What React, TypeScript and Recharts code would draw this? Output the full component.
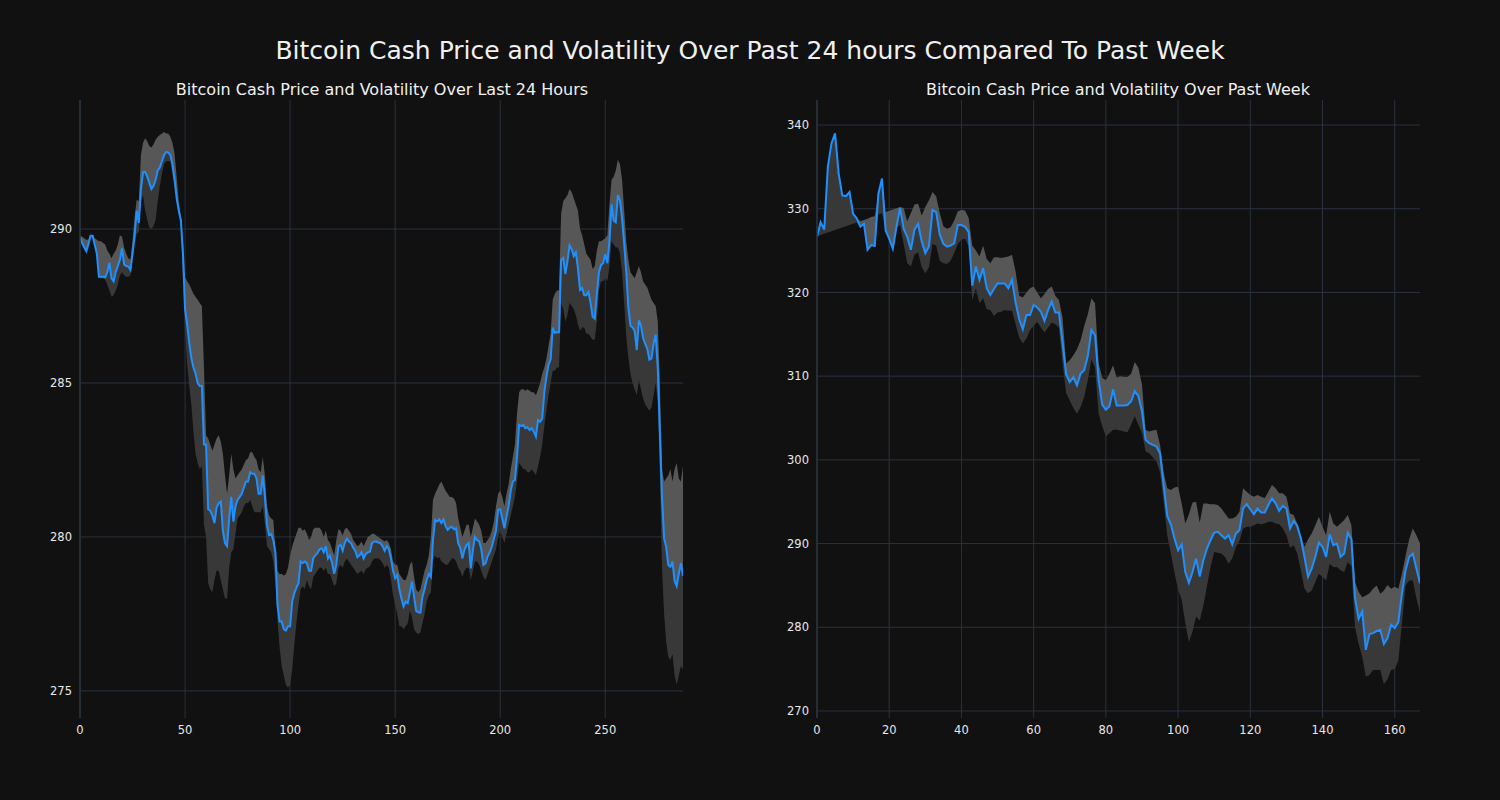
import { ComposedChart, Area, Line, XAxis, YAxis, CartesianGrid } from "recharts"

// last 24 hours, 5 minute steps
const dayPrice = [
  289.75, 289.55, 289.4, 289.28, 289.5, 289.78, 289.78, 289.5, 289.2, 288.45,
  288.45, 288.45, 288.43, 288.6, 288.9, 288.4, 288.3, 288.6, 288.8, 289.0,
  289.37, 288.85, 288.8, 288.78, 288.67, 289.2, 289.8, 290.6, 290.2, 291.3,
  291.85, 291.86, 291.7, 291.5, 291.3, 291.4, 291.6, 291.9, 292.0, 292.2,
  292.4, 292.5, 292.48, 292.4, 292.1, 291.6, 291.0, 290.6, 290.3, 289.2,
  287.4, 286.9, 286.3, 285.8, 285.5, 285.3, 285.0, 284.9, 284.9, 283.0,
  283.0, 280.9, 280.85, 280.7, 280.45, 280.95, 281.1, 281.15, 280.2, 279.8,
  279.7, 280.6, 281.3, 280.5, 281.0, 281.2, 281.3, 281.4, 281.6, 281.8,
  281.8, 282.1, 282.05, 282.05, 281.9, 281.4, 281.4, 282.0, 281.3, 280.4,
  280.06, 280.1, 279.9, 279.5, 277.8, 277.25, 277.25, 277.0, 276.96, 277.1,
  277.1, 277.9, 278.17, 278.35, 278.5, 279.2, 279.15, 279.2, 279.15, 278.9,
  278.9, 279.3, 279.4, 279.47, 279.6, 279.63, 279.5, 279.7, 279.3, 279.4,
  279.15, 278.8, 279.1, 279.7, 279.74, 279.55, 279.8, 279.95, 279.85, 279.8,
  279.65, 279.55, 279.34, 279.4, 279.5, 279.3, 279.45, 279.5, 279.52, 279.8,
  279.85, 279.85, 279.82, 279.8, 279.7, 279.55, 279.7, 279.6, 279.3, 278.9,
  278.66, 278.77, 278.3, 278.0, 277.74, 277.9, 277.85, 278.2, 278.55, 278.06,
  277.6, 277.55, 277.54, 278.06, 278.3, 278.6, 278.8, 278.7, 279.9, 280.55,
  280.5, 280.57, 280.45, 280.57, 280.35, 280.23, 280.3, 280.33, 280.25, 280.28,
  279.8, 279.65, 279.3, 279.58, 279.74, 279.8, 278.98, 279.58, 280.0, 279.9,
  279.85, 279.6, 279.09, 279.14, 279.36, 279.5, 279.68, 279.95, 280.2, 280.88,
  280.9, 280.6, 280.28, 280.66, 281.0, 281.5, 281.8, 281.85, 282.6, 283.64,
  283.6, 283.64, 283.53, 283.56, 283.47, 283.53, 283.42, 283.26, 283.8, 283.74,
  283.85, 284.7, 285.2, 285.6, 285.76, 286.8, 286.63, 286.65, 286.65, 289.0,
  289.06, 288.54, 288.95, 289.47, 289.35, 289.12, 289.24, 288.72, 288.02, 288.08,
  287.85, 287.85, 287.96, 287.6, 287.15, 287.09, 287.9, 288.6, 288.83, 288.89,
  289.18, 288.89, 289.6, 290.8, 290.28, 290.22, 291.1, 290.92, 290.34, 289.53,
  288.6, 287.44, 286.86, 286.8, 286.69, 286.07, 287.03, 286.86, 286.45, 286.28,
  286.11, 285.76, 285.8, 286.28, 286.57, 285.47, 283.38, 281.3, 279.96, 279.67,
  279.09, 279.03, 279.2, 278.57, 278.4, 278.8, 279.15, 278.74,
]

const dayHigh = [
  289.8, 289.75, 289.7, 289.65, 289.65, 289.8, 289.8, 289.7, 289.65, 289.6,
  289.6, 289.55, 289.5, 289.3, 289.2, 289.05, 289.2, 289.3, 289.5, 289.8,
  289.75, 289.4, 289.2, 289.05, 289.0, 289.6, 290.4, 290.95, 290.9, 292.4,
  292.8, 292.95, 292.85, 292.7, 292.65, 292.75, 292.9, 293.0, 293.05, 293.1,
  293.15, 293.1, 293.1, 293.0, 292.8, 292.45, 291.7, 290.9, 290.4, 289.6,
  288.45, 288.3, 288.2, 288.05, 287.9, 287.8, 287.7, 287.6, 287.5, 285.5,
  283.3, 283.2, 283.0, 282.8, 283.0, 283.2, 283.3, 283.1, 282.7, 282.0,
  281.4, 282.0, 282.7, 282.2, 281.9, 282.0, 282.1, 282.2, 282.35, 282.5,
  282.55, 282.75, 282.75, 282.6, 282.5, 282.2, 282.1, 282.6, 282.0, 281.0,
  280.7, 280.6, 280.55, 279.6, 278.9, 278.8, 278.8, 278.75, 278.8, 279.0,
  279.4, 279.7, 279.9, 280.1, 280.3, 280.3, 280.2, 280.25, 280.1, 279.9,
  280.0, 280.25, 280.3, 280.3, 280.3, 280.2, 280.0, 280.2, 279.9, 279.8,
  279.6, 279.4, 279.9, 280.25, 280.2, 280.05, 280.25, 280.3, 280.2, 280.1,
  279.9, 279.8, 279.7, 279.75, 279.85, 279.7, 279.85, 280.0, 280.05, 280.1,
  280.1, 280.05, 280.0, 279.95, 279.9, 279.85, 279.9, 279.8, 279.6, 279.2,
  279.1, 279.1, 278.8, 278.7, 278.6, 278.6, 278.8, 279.1, 279.2, 278.7,
  278.3, 278.2, 278.3, 278.6, 278.9, 279.1, 279.4, 280.0, 281.2, 281.4,
  281.55, 281.7, 281.8, 281.65, 281.5, 281.4, 281.3, 281.3, 281.25, 281.1,
  280.6, 280.3, 280.0, 280.2, 280.4, 280.4, 280.0, 280.3, 280.6, 280.5,
  280.4, 280.2, 279.8, 279.8, 279.9, 280.0, 280.2, 280.5, 281.0, 281.4,
  281.5, 281.3, 281.0, 281.4, 281.7, 282.2, 282.6, 283.0, 284.0, 284.7,
  284.8, 284.8, 284.75, 284.8, 284.75, 284.7, 284.7, 284.6, 284.8, 285.0,
  285.3, 285.5, 285.8, 286.2, 286.6, 287.7, 287.9, 288.0, 288.0, 290.5,
  290.9, 291.0, 291.1, 291.3, 291.2, 291.0, 290.8, 290.6, 290.0, 289.8,
  289.5, 289.2, 289.1, 289.0, 288.7, 288.8, 289.3, 289.6, 289.6, 289.65,
  289.7, 289.8, 290.8, 291.6, 291.7, 291.9, 292.25, 292.1, 291.6, 290.6,
  289.6, 289.0, 288.6, 288.5, 288.4, 288.6, 288.8, 288.6, 288.3, 288.2,
  288.1, 287.9, 287.7, 287.6, 287.5, 287.0, 285.0, 282.2, 281.8, 281.9,
  282.0, 282.2, 281.8, 282.2, 282.4, 281.9, 281.8, 282.3,
]

const dayLow = [
  289.7, 289.5, 289.35, 289.25, 289.45, 289.7, 289.7, 289.45, 289.15, 288.4,
  288.4, 288.4, 288.35, 288.2, 288.0, 287.8, 287.85, 288.0, 288.2, 288.5,
  288.6, 288.5, 288.45, 288.45, 288.5, 289.0, 289.5, 289.85, 289.9, 290.9,
  291.1, 290.6, 290.3, 290.05, 290.0, 290.1, 290.3, 290.9, 291.4, 291.8,
  292.1, 292.2, 292.2, 292.2, 291.8, 291.4, 290.9, 290.5, 290.0, 288.5,
  286.6, 285.6, 284.9, 284.3, 283.4, 282.7, 282.4, 282.2, 282.3, 280.4,
  280.0, 278.5, 278.3, 278.2, 278.6, 278.9, 278.9, 278.6, 278.3, 278.0,
  278.0, 279.0, 279.5, 279.6, 280.1, 280.6, 280.7, 280.8, 281.0, 281.1,
  281.1, 281.2, 281.0, 280.8, 280.8, 280.8, 280.8, 281.0, 280.4, 279.7,
  279.6, 279.5, 279.2, 278.5, 277.3, 276.4, 275.8, 275.5, 275.2, 275.1,
  275.2, 275.7, 276.5, 277.2, 277.8, 278.3, 278.4, 278.3, 278.6, 278.4,
  278.3, 278.7, 278.8, 278.9, 279.0, 279.0, 278.9, 279.0, 278.8, 278.8,
  278.6, 278.4, 278.5, 279.0, 279.1, 279.0, 279.2, 279.3, 279.2, 279.1,
  279.0, 278.9, 278.8, 278.85, 278.9, 278.8, 278.95, 279.0, 279.05, 279.2,
  279.3, 279.3, 279.3, 279.25, 279.15, 279.0, 279.1, 279.0, 278.6, 278.1,
  277.8, 277.5, 277.1, 277.1, 277.0, 277.1, 277.2, 277.6, 277.4, 277.0,
  276.9, 276.85, 276.9, 277.2, 277.5, 277.9, 278.1, 278.2, 279.2, 279.4,
  279.3, 279.35, 279.2, 279.15, 279.1, 279.1, 279.2, 279.3, 279.3, 279.2,
  279.0, 278.9, 278.7, 278.9, 279.0, 279.0, 278.6, 278.9, 279.2, 279.2,
  279.1, 278.9, 278.7, 278.6, 278.8, 279.0, 279.2, 279.4, 279.6, 280.0,
  280.2, 280.0, 279.8, 280.1, 280.4, 280.7, 281.0, 281.3, 281.8, 282.4,
  282.3, 282.2, 282.2, 282.1, 282.1, 282.2, 282.1, 282.0, 282.3, 282.6,
  283.0, 283.6, 284.1, 284.6, 285.0, 285.4, 285.4, 285.5, 285.5, 287.6,
  287.4, 287.0, 287.2, 287.6, 287.5, 287.4, 287.2, 286.9, 286.7, 286.8,
  286.8, 286.6, 286.6, 286.5, 286.4, 286.4, 287.0, 288.0, 288.3, 288.3,
  288.4, 288.3, 288.8, 289.6, 289.5, 289.4, 289.4, 289.2, 288.6, 287.6,
  286.5, 285.8, 285.3, 285.0, 284.8, 284.6, 285.1, 284.8, 284.5, 284.3,
  284.2, 284.1, 284.2, 284.6, 285.0, 284.4, 282.0, 279.0, 277.5, 276.6,
  276.1, 276.0, 276.2, 275.5, 275.2, 275.5, 275.8, 275.7,
]

// past week, hourly
const weekPrice = [
  326.66, 328.4, 327.5, 335.0, 337.8, 339.0, 334.2, 331.6, 331.5, 332.0,
  329.4, 328.85, 327.85, 328.2, 325.1, 325.66, 325.54, 331.8, 333.6, 327.4,
  326.4, 325.2, 327.8, 330.1, 327.6, 326.6, 325.1, 327.5, 328.2, 326.1,
  324.7, 325.5, 329.85, 329.6, 326.9, 325.8, 325.46, 325.6, 325.86, 328.05,
  328.05, 327.85, 327.2, 320.8, 323.1, 321.5, 322.9, 320.5, 319.7, 320.4,
  321.1, 321.08, 321.08, 320.5, 321.5, 318.8, 316.8, 315.6, 317.3, 317.3,
  318.5, 318.2, 317.7, 316.6, 317.9, 318.9, 317.6, 317.6, 314.0, 310.2,
  309.3, 309.9, 308.9, 310.3, 310.7, 312.4, 315.5, 314.9, 309.5, 306.6,
  306.0, 306.4, 308.4, 306.5, 306.5, 306.5, 306.55, 307.0, 308.2, 307.6,
  305.8, 302.4, 302.0, 301.8, 301.6, 300.8, 297.0, 293.3, 292.3, 290.6,
  289.2, 289.9, 286.6, 285.3, 286.6, 288.2, 286.05, 288.0, 289.4, 290.4,
  291.3, 291.4, 291.0, 290.6, 291.0, 289.9, 291.2, 291.6, 294.2, 294.7,
  294.1, 293.5, 294.2, 293.7, 293.7, 294.6, 295.4, 294.8, 293.9, 294.5,
  294.2, 291.8, 292.7, 292.1, 290.6, 288.4, 286.05, 287.0, 288.4, 290.1,
  289.6, 288.4, 291.1, 289.8, 290.0, 288.4, 288.8, 291.3, 290.5, 283.5,
  281.0, 281.9, 277.3, 279.2, 279.3, 279.55, 279.7, 278.0, 278.7, 280.3,
  279.9, 280.6, 284.05, 286.8, 288.4, 288.8, 287.0, 285.25,
]

const weekHigh = [
  326.7, 328.4, 327.5, 335.0, 337.8, 339.0, 334.2, 331.6, 331.5, 332.0,
  329.4, 328.85, 328.5, 328.65, 328.8, 329.0, 329.1, 331.8, 333.6, 329.6,
  329.75, 329.9, 330.05, 330.2, 330.1, 328.5, 329.5, 330.5, 330.6, 329.2,
  330.2, 331.0, 332.0, 331.5, 329.5, 327.9, 327.6, 327.8, 328.6, 329.7,
  329.85, 329.8, 328.9, 325.6, 325.0, 324.3, 325.6, 324.0, 323.5, 324.2,
  324.2, 324.1, 324.2, 324.3, 324.5, 322.5, 319.6, 319.4, 320.0, 320.5,
  320.7, 320.0, 319.3, 319.8, 320.4, 320.7, 319.6, 319.1, 317.0, 311.5,
  311.9, 312.5, 313.2, 314.3, 316.0, 317.4, 319.3, 318.7, 311.5, 309.8,
  309.5, 310.3, 311.3, 309.8, 310.0, 309.9, 309.9, 310.3, 311.7, 311.0,
  309.0, 303.6, 303.4, 303.5, 303.6, 301.8, 298.5, 296.6, 296.4, 296.7,
  296.8, 294.8, 292.4, 293.5, 294.9, 295.0, 292.5, 294.8, 294.8, 294.7,
  294.7, 294.6, 294.2, 293.6, 293.0, 293.0, 293.2, 293.8, 296.6, 296.2,
  295.8, 295.6, 295.8, 295.6, 295.4, 296.2, 297.0, 296.6, 296.0, 296.0,
  295.6, 293.6, 293.4, 292.4, 291.0, 289.6, 290.5, 291.2, 292.2, 293.2,
  292.0, 291.0, 293.8, 292.4, 292.0, 292.4, 292.8, 293.4, 292.2, 285.4,
  284.2, 283.6, 283.8, 284.05, 284.6, 285.0, 284.0, 284.4, 285.05, 284.6,
  284.85, 284.6, 286.4, 288.5, 290.5, 291.8, 291.0, 290.0,
]

const weekLow = [
  326.66, 326.85, 327.0, 327.15, 327.3, 327.45, 327.6, 327.75, 327.9, 328.05,
  328.2, 328.35, 327.85, 328.2, 325.1, 325.66, 325.54, 329.3, 329.45, 327.4,
  326.4, 325.2, 327.8, 328.0, 325.8, 323.5, 323.1, 324.5, 324.8, 323.0,
  322.3, 323.0, 325.8, 325.6, 323.8, 323.5, 323.4, 323.8, 324.7, 325.8,
  326.3, 326.4, 325.5, 319.1, 320.5, 318.7, 319.3, 318.0, 317.9, 317.2,
  317.6, 317.7, 317.9, 317.8, 317.8, 316.2, 314.6, 313.9, 314.5, 315.5,
  316.0, 316.5, 315.8, 315.2, 315.8, 316.4, 316.2, 315.8, 311.5, 308.0,
  307.1, 306.2, 305.5, 306.3, 307.5, 309.5, 312.0, 311.0, 305.5, 304.0,
  302.8, 303.2, 303.6, 303.6, 303.5, 303.4, 303.3, 304.2, 305.2, 304.2,
  303.2, 301.0, 300.8, 300.3, 299.8, 298.5, 295.0, 291.0, 288.8, 286.5,
  284.5, 283.3, 280.5, 278.2, 279.5, 281.3, 280.8, 282.6, 284.9, 287.2,
  289.0, 288.9, 288.8, 288.4, 287.6, 288.2, 289.6, 290.3, 291.8, 292.0,
  292.0, 292.2, 292.4, 292.3, 292.4, 292.6, 292.6, 292.4, 292.3, 291.8,
  291.0, 289.5, 289.8, 288.8, 286.8, 284.6, 284.05, 284.4, 285.4, 286.4,
  286.0, 285.6, 287.6, 287.2, 287.2, 286.8, 286.6, 287.8, 287.3, 280.0,
  278.0, 276.5, 274.1, 274.3, 274.9, 274.9, 274.9, 273.2, 273.8, 274.9,
  275.0, 276.0, 280.5, 285.0, 285.6, 285.6, 283.5, 281.7,
]

const dayTicksX = [0, 50, 100, 150, 200, 250]
const dayTicksY = [275, 280, 285, 290]
const weekTicksX = [0, 20, 40, 60, 80, 100, 120, 140, 160]
const weekTicksY = [270, 280, 290, 300, 310, 320, 330, 340]

const GRID = "#29323e"
const FONT = "'DejaVu Sans', sans-serif"
const tickStyle = { fill: "#e8e8e8", fontSize: 11.5, fontFamily: FONT }

function buildRows(price: number[], high: number[], low: number[]) {
  return price.map((p, i) => ({
    x: i,
    price: p,
    below: [low[i], p],
    above: [p, high[i]],
  }))
}

type PanelProps = {
  rows: ReturnType<typeof buildRows>
  xMax: number
  xTicks: number[]
  yDomain: [number, number]
  yTicks: number[]
  margin: { top: number; right: number; bottom: number; left: number }
}

function VolatilityPanel({ rows, xMax, xTicks, yDomain, yTicks, margin }: PanelProps) {
  return (
    <ComposedChart width={750} height={800} data={rows} margin={margin}>
      {/* syncWithTicks: grid only at the ticks, no frame round the plot */}
      <CartesianGrid stroke={GRID} strokeWidth={1} syncWithTicks />
      <XAxis
        dataKey="x"
        type="number"
        domain={[0, xMax]}
        ticks={xTicks}
        tickLine={false}
        axisLine={false}
        tick={tickStyle}
        height={30}
        allowDataOverflow
      />
      <YAxis
        type="number"
        domain={yDomain}
        ticks={yTicks}
        tickLine={false}
        axisLine={{ stroke: GRID, strokeWidth: 1.5 }}
        tick={tickStyle}
        width={50}
        allowDataOverflow
      />
      <Area
        dataKey="below"
        type="linear"
        stroke="none"
        fill="#383838"
        fillOpacity={1}
        dot={false}
        activeDot={false}
        isAnimationActive={false}
      />
      <Area
        dataKey="above"
        type="linear"
        stroke="none"
        fill="#575757"
        fillOpacity={1}
        dot={false}
        activeDot={false}
        isAnimationActive={false}
      />
      <Line
        dataKey="price"
        type="linear"
        stroke="#1e90ff"
        strokeWidth={2}
        dot={false}
        activeDot={false}
        isAnimationActive={false}
      />
    </ComposedChart>
  )
}

export default function App() {
  const dayRows = buildRows(dayPrice, dayHigh, dayLow)
  const weekRows = buildRows(weekPrice, weekHigh, weekLow)

  return (
    <div style={{ position: "absolute", left: 0, top: 0, width: 1500, height: 800, background: "#111111", overflow: "hidden" }}>
      <div style={{ position: "absolute", left: 0, top: 0 }}>
        <VolatilityPanel
          rows={dayRows}
          xMax={287}
          xTicks={dayTicksX}
          yDomain={[274.12, 294.19]}
          yTicks={dayTicksY}
          margin={{ top: 100, right: 67, bottom: 52, left: 30 }}
        />
      </div>
      <div style={{ position: "absolute", left: 750, top: 0 }}>
        <VolatilityPanel
          rows={weekRows}
          xMax={167}
          xTicks={weekTicksX}
          yDomain={[269.16, 342.99]}
          yTicks={weekTicksY}
          margin={{ top: 100, right: 80, bottom: 52, left: 17 }}
        />
      </div>
      <svg width={1500} height={800} style={{ position: "absolute", left: 0, top: 0, pointerEvents: "none" }}>
        <text x={750} y={59} textAnchor="middle" fill="#f0f0f0" fontSize={25} fontFamily={FONT}>
          Bitcoin Cash Price and Volatility Over Past 24 hours Compared To Past Week
        </text>
        <text x={382} y={95} textAnchor="middle" fill="#f0f0f0" fontSize={16} fontFamily={FONT}>
          Bitcoin Cash Price and Volatility Over Last 24 Hours
        </text>
        <text x={1118} y={95} textAnchor="middle" fill="#f0f0f0" fontSize={16} fontFamily={FONT}>
          Bitcoin Cash Price and Volatility Over Past Week
        </text>
      </svg>
    </div>
  )
}
